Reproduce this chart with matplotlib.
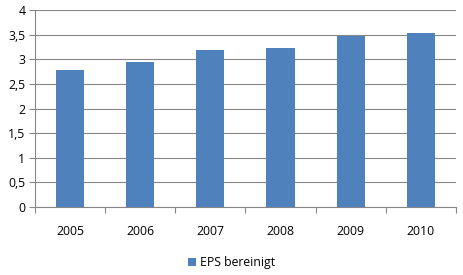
import matplotlib
matplotlib.use("Agg")
import matplotlib.pyplot as plt
import numpy as np
from matplotlib.ticker import FuncFormatter

years = ["2005", "2006", "2007", "2008", "2009", "2010"]
eps = [2.78, 2.94, 3.18, 3.23, 3.47, 3.53]
y_ticks = [0, 0.5, 1, 1.5, 2, 2.5, 3, 3.5, 4]

plt.rcParams["font.family"] = ["Open Sans", "DejaVu Sans"]

fig = plt.figure(figsize=(4.63, 2.75), dpi=100)
ax = fig.add_axes([0.0756, 0.247, 0.909, 0.7166])

x = np.arange(len(years))
ax.bar(x, eps, width=0.4, color="#4F81BD", label="EPS bereinigt", zorder=3)

ax.set_xlim(-0.5, len(years) - 0.5)
ax.set_ylim(0, 4)
ax.set_yticks(y_ticks)
ax.yaxis.set_major_formatter(FuncFormatter(lambda v, p: f"{v:g}".replace(".", ",")))
ax.grid(axis="y", color="#868686", linewidth=0.8, zorder=0)

ax.set_xticks(x)
ax.set_xticklabels(years)
ax.set_xticks(np.arange(-0.5, len(years)), minor=True)
ax.tick_params(axis="x", which="major", length=0, pad=13, labelsize=8.8)
ax.tick_params(axis="x", which="minor", length=4, color="#868686", width=0.8)
ax.tick_params(axis="y", length=4, color="#868686", width=0.8, labelsize=8.8, pad=3)

for side in ["top", "right"]:
    ax.spines[side].set_visible(False)
for side in ["left", "bottom"]:
    ax.spines[side].set_color("#868686")
    ax.spines[side].set_linewidth(0.8)

fig.legend(loc="center", bbox_to_anchor=(0.5, 0.045), frameon=False, fontsize=8.8,
           handlelength=0.7, handleheight=0.7, handletextpad=0.3)

fig.savefig("out.png", dpi=100)
